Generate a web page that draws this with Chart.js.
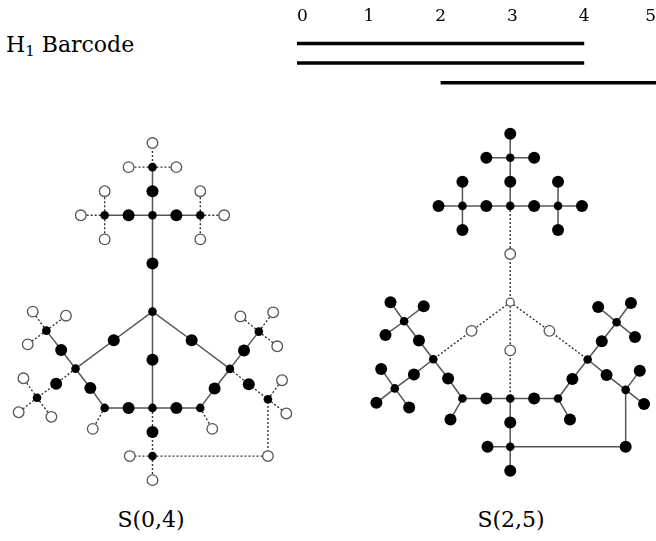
<!DOCTYPE html>
<html>
<head>
<meta charset="utf-8">
<script src="https://cdn.jsdelivr.net/npm/chart.js@4.4.0/dist/chart.umd.min.js"></script>
<style>
  body { margin: 0; background: #fff; }
  #wrap { position: relative; width: 656px; height: 541px; overflow: hidden; font-family: "DejaVu Serif", serif; color: #000; }
  canvas { position: absolute; }
  .label { position: absolute; font-size: 22px; line-height: 22px; white-space: nowrap; }
  .label sub { font-size: 15px; vertical-align: -4px; line-height: 0; }
</style>
</head>
<body>
<div id="wrap">
  <div class="label" style="left:6px; top:34px;">H<sub>1</sub> Barcode</div>
  <canvas id="barcode" width="656" height="100" style="left:0; top:0;"></canvas>
  <canvas id="s04" width="328" height="400" style="left:0; top:100px;"></canvas>
  <canvas id="s25" width="328" height="400" style="left:328px; top:100px;"></canvas>
  <div class="label" style="left:51px; top:509px; width:200px; text-align:center;">S(0,4)</div>
  <div class="label" style="left:411px; top:509px; width:200px; text-align:center;">S(2,5)</div>
</div>
<script>
// H1 barcode: one bar per cycle, [birth, death]
const barTicks = [0, 1, 2, 3, 4, 5];
const barRows = [1, 2, 3];
const barStarts = [0, 0, 2];
const barEnds = [4, 4, 5.2];   // last bar runs off the edge

// graph nodes (grid units, y grows downward)
const nodeNames = ['T0','T1','T2','T3','T4','T5','T6','T7','T8','T9','T10','T11','T12','T13','T14','T15','T16',
  'P0','P1','P2','P3','P4','P5','P6','P7','P8','P9','P10','P11','P12','P13','P14',
  'B0','B1','B2','B3','B4',
  'LU0','LU1','LU2','LU3','LU4','LL0','LL1','LL2','LL3','LL4',
  'RU0','RU1','RU2','RU3','RU4','RL0','RL1','RL2','RL3'];
const nodeX = [0, 0, -1, 1, 0, 0, -1, 1, -2, 2, -3, 3, -2, -2, 2, 2, 0,
  0, -1.62, 1.64, 0, -3.22, 3.24, -2.6, 2.6, -2, -1, 0, 1, 2, -2.5, 2.5,
  0, 0, -0.95, 0, 4.83,
  -3.82, -4.44, -5.01, -3.62, -5.22, -4.03, -4.83, -5.4, -5.6, -4.23,
  3.83, 4.45, 3.68, 5.05, 5.22, 4.03, 4.83, 5.42, 5.6];
const nodeY = [-7, -6, -6, -6, -5, -4, -4, -4, -4, -4, -4, -4, -5, -3, -5, -3, -2,
  0, 1.19, 1.19, 2, 2.37, 2.38, 3.17, 3.19, 4, 4, 4, 4, 4, 4.87, 4.87,
  5, 6, 6, 7, 6,
  1.59, 0.79, 0, 0.17, 1.36, 3.0, 3.58, 2.77, 4.18, 4.37,
  1.62, 0.83, 0.2, 0.03, 1.44, 3.02, 3.64, 2.85, 4.23];
// branch vertices are drawn smaller
const branchNodes = ['T1','T5','T8','T9','P0','P4','P5','P8','P10','P12','B1','LU1','LL1','RU1','RL1'];

const edges = ['T0-T1','T1-T2','T1-T3','T1-T4','T4-T5','T5-T6','T6-T8','T5-T7','T7-T9',
  'T8-T10','T8-T12','T8-T13','T9-T11','T9-T14','T9-T15','T5-T16','T16-P0',
  'P0-P1','P1-P4','P0-P2','P2-P5','P0-P3','P3-P10','P4-P6','P6-P8','P5-P7','P7-P12',
  'P8-P9','P9-P10','P10-P11','P11-P12','P8-P13','P12-P14',
  'P10-B0','B0-B1','B1-B2','B1-B3','B1-B4','B4-RL1',
  'P4-LU0','LU0-LU1','LU1-LU2','LU1-LU3','LU1-LU4','P4-LL0','LL0-LL1','LL1-LL2','LL1-LL3','LL1-LL4',
  'P5-RU0','RU0-RU1','RU1-RU2','RU1-RU3','RU1-RU4','P5-RL0','RL0-RL1','RL1-RL2','RL1-RL3'];

// S(0,4): which edges are dotted and which nodes are empty
const dottedS04 = ['T0-T1','T1-T2','T1-T3','T8-T10','T8-T12','T8-T13','T9-T11','T9-T14','T9-T15',
  'P8-P13','P12-P14','P10-B0','B0-B1','B1-B2','B1-B3','B1-B4','B4-RL1',
  'LU1-LU2','LU1-LU3','LU1-LU4','P4-LL0','LL0-LL1','LL1-LL2','LL1-LL3','LL1-LL4',
  'RU1-RU2','RU1-RU3','RU1-RU4','P5-RL0','RL0-RL1','RL1-RL2','RL1-RL3'];
const hollowS04 = ['T0','T2','T3','T10','T11','T12','T13','T14','T15','P13','P14','B2','B3','B4',
  'LU2','LU3','LU4','LL2','LL3','LL4','RU2','RU3','RU4','RL2','RL3'];

// S(2,5)
const dottedS25 = ['T5-T16','T16-P0','P0-P1','P1-P4','P0-P2','P2-P5','P0-P3','P3-P10'];
const hollowS25 = ['T16','P0','P1','P2','P3'];

Chart.defaults.font.family = '"DejaVu Serif", serif';
Chart.defaults.animation = false;

// barcode
new Chart(document.getElementById('barcode'), {
  type: 'scatter',
  data: {
    datasets: barRows.map((r, i) => ({
      data: [{ x: barStarts[i], y: r }, { x: barEnds[i], y: r }],
      showLine: true,
      borderColor: '#000',
      borderWidth: 3.5,
      borderCapStyle: 'butt',
      pointRadius: 0
    }))
  },
  options: {
    responsive: false,
    events: [],
    layout: { padding: { left: 297, top: 6 } },
    plugins: { legend: { display: false }, tooltip: { enabled: false } },
    scales: {
      x: {
        type: 'linear',
        position: 'top',
        min: 0,
        max: 5,
        afterBuildTicks: s => { s.ticks = barTicks.map(v => ({ value: v })); },
        ticks: { align: 'inner', padding: 0, color: '#000', font: { size: 17 } },
        grid: { display: false, drawTicks: false },
        border: { display: false }
      },
      y: { type: 'linear', reverse: true, min: 0.13, max: 3.88, display: false }
    }
  }
});

function pos(name) {
  const i = nodeNames.indexOf(name);
  return { x: nodeX[i], y: nodeY[i] };
}

function edgeData(list) {
  const out = [];
  list.forEach(e => {
    const [a, b] = e.split('-').map(pos);
    out.push(a, b, { x: b.x, y: null });
  });
  return out;
}

function graphChart(id, dotted, hollow, xMin, xMax, yMin, yMax) {
  const solid = edges.filter(e => !dotted.includes(e));
  const pick = (isHollow, isBranch) => nodeNames
    .filter(n => hollow.includes(n) === isHollow && branchNodes.includes(n) === isBranch)
    .map(pos);
  const nodeSet = (data, radius, isHollow) => ({
    data,
    pointRadius: radius,
    pointBackgroundColor: isHollow ? '#fff' : '#000',
    pointBorderColor: isHollow ? '#555' : '#000',
    pointBorderWidth: isHollow ? 1.3 : 0,
    order: 1
  });
  new Chart(document.getElementById(id), {
    type: 'scatter',
    data: {
      datasets: [
        nodeSet(pick(false, false), 6, false),
        nodeSet(pick(false, true), 4.3, false),
        nodeSet(pick(true, false), 5.3, true),
        nodeSet(pick(true, true), 4, true),
        {
          data: edgeData(solid), showLine: true, spanGaps: false,
          borderColor: '#555', borderWidth: 1.5, pointRadius: 0, order: 2
        },
        {
          data: edgeData(dotted), showLine: true, spanGaps: false,
          borderColor: '#333', borderWidth: 1.4, borderDash: [2, 2], pointRadius: 0, order: 2
        }
      ]
    },
    options: {
      responsive: false,
      events: [],
      clip: false,
      plugins: { legend: { display: false }, tooltip: { enabled: false } },
      scales: {
        x: { type: 'linear', min: xMin, max: xMax, display: false },
        y: { type: 'linear', reverse: true, min: yMin, max: yMax, display: false }
      }
    }
  });
}

// 24.9 px per grid unit
graphChart('s04', dottedS04, hollowS04, -6.104, 7.068, -8.514, 7.55);
graphChart('s25', dottedS25, hollowS25, -7.349, 5.823, -8.124, 7.94);
</script>
</body>
</html>
